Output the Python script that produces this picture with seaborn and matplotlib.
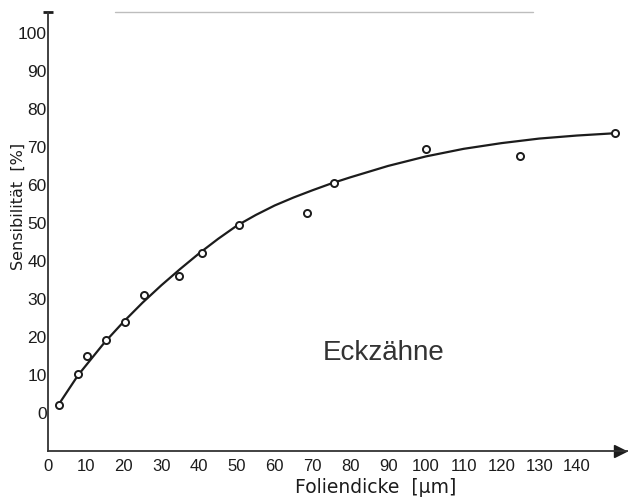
import matplotlib
matplotlib.use("Agg")
import matplotlib.pyplot as plt
import seaborn as sns
import pandas as pd
from matplotlib.lines import Line2D

# measured data points
thickness = [3, 8, 10.3, 15.4, 20.4, 25.5, 34.7, 40.7, 50.6, 68.5, 75.7, 100, 125, 150]
sensitivity = [2.1, 10.2, 15.1, 19.1, 24.0, 31.0, 36.1, 42.1, 49.4, 52.5, 60.6, 69.4, 67.5, 73.6]

# fitted curve
curve_x = [3, 8, 15, 20, 25, 30, 35, 40, 45, 50, 55, 60, 65, 70, 75, 80, 90, 100, 110, 120, 130, 140, 150]
curve_y = [2.5, 10.0, 18.6, 24.0, 29.0, 33.6, 37.9, 42.0, 45.8, 49.3, 52.1, 54.6, 56.7, 58.6, 60.4, 62.0, 65.0, 67.5, 69.5, 71.0, 72.2, 73.0, 73.6]

x_ticks = list(range(0, 150, 10))
y_ticks = list(range(0, 110, 10))

sns.set_style("white")
plt.rcParams["font.family"] = ["Liberation Sans", "DejaVu Sans"]

ink = "#1c1c1c"
fig = plt.figure(figsize=(6.28, 4.97), dpi=100)
ax = fig.add_axes([48 / 628, 46 / 497, 580 / 628, 439 / 497])

pts = pd.DataFrame({"x": thickness, "y": sensitivity})
crv = pd.DataFrame({"x": curve_x, "y": curve_y})

sns.lineplot(data=crv, x="x", y="y", ax=ax, color=ink, lw=1.6, sort=True)
sns.scatterplot(data=pts, x="x", y="y", ax=ax, marker="o", s=26,
                facecolor="white", edgecolor=ink, linewidth=1.4, zorder=3)

ax.set_xlim(0, 153.5)
ax.set_ylim(-10, 105.5)
for s in ["top", "right"]:
    ax.spines[s].set_visible(False)
for s in ["left", "bottom"]:
    ax.spines[s].set_color("#333333")
    ax.spines[s].set_linewidth(1.3)

ax.set_xticks(x_ticks)
ax.set_xticklabels([str(v) for v in x_ticks])
ax.set_yticks(y_ticks)
ax.set_yticklabels([str(v) for v in y_ticks])
ax.tick_params(axis="x", direction="in", length=7, width=1.1, colors=ink, labelsize=12, pad=6)
ax.tick_params(axis="y", direction="in", length=7, width=1.1, colors=ink, labelsize=12.5, pad=1)

ax.set_xlabel("Foliendicke  [µm]", fontsize=13.5, color=ink, family=["DejaVu Sans"])
ax.xaxis.set_label_coords(0.565, -0.062)
ax.set_ylabel("Sensibilität  [%]", fontsize=11.5, color=ink, family=["DejaVu Sans"])
ax.yaxis.set_label_coords(-0.038, 0.556)
ax.grid(False)

# axis arrow and top cap
ax.plot(151.3, -10, marker=">", ms=8, color=ink, clip_on=False)
ax.plot(0, 105.5, marker="_", ms=7, mew=2, color=ink, clip_on=False)

ax.text(72.7, 15.8, "Eckzähne", fontsize=20, color="#333333", ha="left", va="center")

# faint scan line at top
fig.add_artist(Line2D([115 / 628, 533 / 628], [1 - 12 / 497, 1 - 12 / 497],
                      color="#bdbdbd", lw=1.0))

fig.savefig("out.png", dpi=100)
